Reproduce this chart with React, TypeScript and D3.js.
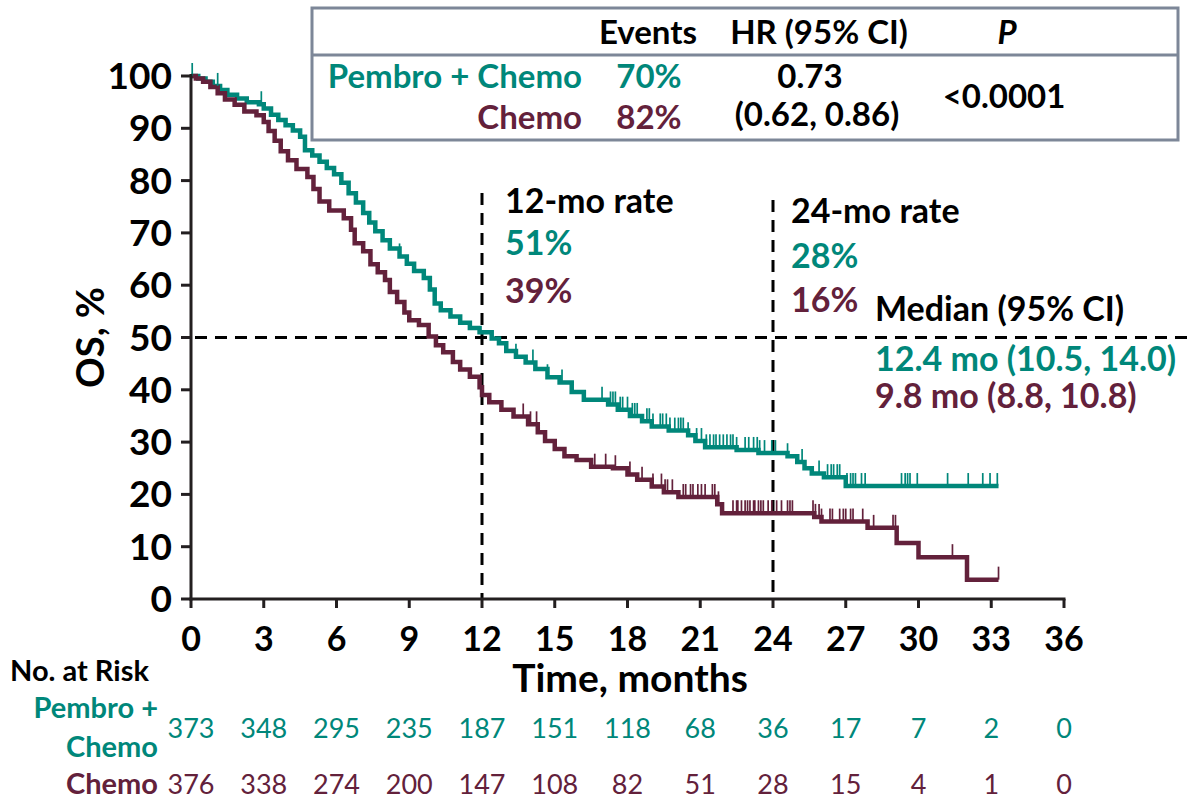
import React from "react";
import * as d3 from "d3";

// ---- Data ----
const xTicks = [0, 3, 6, 9, 12, 15, 18, 21, 24, 27, 30, 33, 36];
const yTicks = [0, 10, 20, 30, 40, 50, 60, 70, 80, 90, 100];

const pembroTimes = [0, 0.3, 0.6, 0.9, 1.2, 1.5, 1.9, 2.3, 2.8, 3.0, 3.3, 3.6, 3.9, 4.2, 4.5, 4.7, 5.0, 5.3, 5.6, 5.9, 6.2, 6.5, 6.8, 7.1, 7.35, 7.6, 7.9, 8.2, 8.6, 8.9, 9.2, 9.6, 9.85, 10.05, 10.3, 10.7, 11.1, 11.5, 11.9, 12.4, 12.7, 13.0, 13.4, 13.8, 14.2, 14.7, 15.2, 15.7, 16.2, 17.2, 17.6, 18.1, 18.6, 19.0, 19.7, 20.5, 20.8, 21.2, 22.5, 23.4, 24.6, 25.0, 25.3, 25.6, 26.1, 27.0];
const pembroSurv = [100, 99.5, 98.9, 98.1, 97.3, 96.4, 95.7, 95.0, 94.6, 93.8, 92.6, 91.6, 90.6, 89.6, 88.4, 85.8, 84.8, 83.6, 82.4, 81.2, 79.6, 77.6, 75.8, 73.8, 72.0, 70.3, 68.6, 67.0, 65.5, 64.1, 62.7, 61.4, 59.2, 56.5, 55.2, 54.0, 52.8, 51.8, 51.0, 49.8, 48.9, 47.4, 46.3, 45.2, 44.0, 42.4, 41.4, 39.6, 38.1, 37.2, 36.2, 35.0, 34.0, 33.0, 32.2, 31.3, 30.2, 29.0, 28.5, 27.9, 27.3, 26.2, 25.0, 24.0, 23.3, 21.6];
const pembroEnd = 33.3;
const pembroCensor = [0.05, 1.1, 2.9, 8.6, 13.4, 14.1, 14.7, 15.3, 16.95, 17.3, 17.4, 17.5, 17.7, 17.8, 18.0, 18.2, 18.3, 18.4, 18.8, 18.9, 19.05, 19.35, 19.45, 19.6, 19.75, 19.95, 20.1, 20.2, 20.3, 20.5, 20.85, 21.05, 21.25, 21.4, 21.55, 21.65, 21.8, 21.95, 22.1, 22.25, 22.35, 22.5, 22.85, 23.0, 23.2, 23.35, 23.45, 23.65, 23.95, 24.1, 24.6, 25.2, 25.9, 26.25, 26.4, 26.5, 26.65, 26.75, 27.05, 27.2, 27.3, 27.4, 27.65, 27.8, 29.3, 29.45, 29.55, 29.65, 29.95, 31.2, 32.05, 32.65, 32.95, 33.25];

const chemoTimes = [0, 0.2, 0.5, 0.8, 1.1, 1.4, 1.8, 2.2, 2.7, 3.0, 3.2, 3.45, 3.7, 4.0, 4.35, 4.8, 5.05, 5.3, 5.7, 6.3, 6.6, 6.75, 7.1, 7.4, 7.7, 8.0, 8.2, 8.5, 8.8, 9.0, 9.4, 9.8, 10.1, 10.4, 10.8, 11.1, 11.5, 11.9, 12.0, 12.3, 12.8, 13.3, 13.9, 14.3, 14.6, 15.0, 15.4, 15.9, 16.5, 17.4, 18.0, 18.4, 19.0, 19.5, 20.1, 21.7, 21.9, 25.7, 26.0, 27.9, 29.1, 30.0, 32.0];
const chemoSurv = [100, 99.5, 98.9, 97.9, 96.7, 95.5, 94.5, 93.2, 92.5, 91.2, 89.5, 87.6, 85.6, 83.9, 82.2, 80.7, 78.4, 76.0, 74.3, 72.8, 70.6, 68.0, 66.5, 64.0, 62.5, 61.0, 58.7, 56.8, 54.8, 53.3, 52.4, 50.2, 48.5, 47.2, 45.3, 43.9, 42.5, 40.5, 39.0, 37.6, 36.2, 34.9, 33.4, 31.9, 30.2, 28.7, 27.3, 26.6, 25.3, 25.0, 23.8, 22.8, 21.5, 20.4, 19.5, 18.1, 16.4, 15.7, 14.8, 13.6, 10.7, 8.0, 3.7];
const chemoEnd = 33.3;
const chemoCensor = [13.7, 14.0, 14.25, 16.65, 17.1, 17.5, 18.1, 18.6, 19.05, 19.4, 19.55, 19.65, 19.85, 20.3, 20.4, 20.6, 20.7, 20.9, 21.05, 21.2, 21.5, 21.6, 21.75, 22.35, 22.5, 22.55, 22.7, 22.85, 22.95, 23.05, 23.2, 23.25, 23.4, 23.5, 23.6, 23.8, 23.95, 24.15, 24.35, 24.6, 24.7, 24.8, 25.65, 25.75, 25.9, 26.0, 26.35, 26.45, 26.75, 26.9, 27.0, 27.2, 27.3, 27.7, 28.15, 28.95, 29.05, 31.4, 33.3];

const riskPembro = [373, 348, 295, 235, 187, 151, 118, 68, 36, 17, 7, 2, 0];
const riskChemo = [376, 338, 274, 200, 147, 108, 82, 51, 28, 15, 4, 1, 0];

const TEAL = "#00877a";
const MAROON = "#63213b";
const AXIS = "#231f20";
const FONT = "Lato, 'Open Sans', sans-serif";

const x = d3.scaleLinear().domain([0, 36]).range([191, 1064]);
const y = d3.scaleLinear().domain([0, 100]).range([599, 76]);

function kmPath(times: number[], surv: number[], end: number) {
  const pts: [number, number][] = times.map((t, i) => [t, surv[i]]);
  pts.push([end, surv[surv.length - 1]]);
  return d3
    .line<[number, number]>()
    .x((d) => x(d[0]))
    .y((d) => y(d[1]))
    .curve(d3.curveStepAfter)(pts) as string;
}

function survAt(times: number[], surv: number[], t: number) {
  const i = d3.bisectRight(times, t) - 1;
  return surv[Math.max(0, i)];
}

export default function App() {
  return (
    <svg
      width={1191}
      height={801}
      style={{ position: "absolute", left: 0, top: 0, background: "#fff" }}
      fontFamily={FONT}
    >
      {/* reference lines */}
      <g stroke="#000" strokeWidth={3} strokeDasharray="12 8" fill="none">
        <line x1={x(0) + 4} x2={1191} y1={y(50)} y2={y(50)} />
        <line x1={x(12)} x2={x(12)} y1={193} y2={y(0)} />
        <line x1={x(24)} x2={x(24)} y1={200} y2={y(0)} />
      </g>

      {/* curves */}
      <path d={kmPath(pembroTimes, pembroSurv, pembroEnd)} fill="none" stroke={TEAL} strokeWidth={4.5} />
      <path d={kmPath(chemoTimes, chemoSurv, chemoEnd)} fill="none" stroke={MAROON} strokeWidth={4.5} />
      <g stroke={TEAL} strokeWidth={1.7}>
        {pembroCensor.map((t, i) => {
          const s = survAt(pembroTimes, pembroSurv, t);
          return <line key={i} x1={x(t)} x2={x(t)} y1={y(s)} y2={y(s) - 13} />;
        })}
      </g>
      <g stroke={MAROON} strokeWidth={1.7}>
        {chemoCensor.map((t, i) => {
          const s = survAt(chemoTimes, chemoSurv, t);
          return <line key={i} x1={x(t)} x2={x(t)} y1={y(s)} y2={y(s) - 13} />;
        })}
      </g>

      {/* axes */}
      <g stroke={AXIS} strokeWidth={3}>
        <line x1={x(0)} x2={x(0)} y1={y(100) - 2} y2={y(0) + 1.5} />
        <line x1={x(0) - 1.5} x2={x(36) + 1.5} y1={y(0)} y2={y(0)} />
        {yTicks.map((v) => (
          <line key={"yt" + v} x1={x(0) - 10} x2={x(0)} y1={y(v)} y2={y(v)} />
        ))}
        {xTicks.map((v) => (
          <line key={"xt" + v} x1={x(v)} x2={x(v)} y1={y(0)} y2={y(0) + 9} />
        ))}
      </g>
      <g fontWeight="bold" fill="#000">
        {yTicks.map((v) => (
          <text key={"yl" + v} x={172} y={y(v) + 13} textAnchor="end" fontSize={37}>
            {v}
          </text>
        ))}
        {xTicks.map((v) => (
          <text key={"xl" + v} x={x(v)} y={651} textAnchor="middle" fontSize={34}>
            {v}
          </text>
        ))}
      </g>
      <text x={630} y={692} textAnchor="middle" fontWeight="bold" fontSize={39}>
        Time, months
      </text>
      <text
        transform={`translate(104,${y(50)}) rotate(-90)`}
        textAnchor="middle"
        fontWeight="bold"
        fontSize={38}
      >
        OS, %
      </text>

      {/* annotations */}
      <g fontWeight="bold" fontSize={34}>
        <text x={505} y={213} fill="#000">12-mo rate</text>
        <text x={505} y={255} fill={TEAL}>51%</text>
        <text x={505} y={303} fill={MAROON}>39%</text>
        <text x={791} y={223} fill="#000">24-mo rate</text>
        <text x={791} y={268} fill={TEAL}>28%</text>
        <text x={791} y={312} fill={MAROON}>16%</text>
        <text x={875} y={321} fill="#000">Median (95% CI)</text>
        <text x={875} y={371} fill={TEAL}>12.4 mo (10.5, 14.0)</text>
        <text x={875} y={408} fill={MAROON}>9.8 mo (8.8, 10.8)</text>
      </g>

      {/* legend table */}
      <rect x={312} y={8} width={866} height={132} fill="#fff" stroke="#7d8798" strokeWidth={3} />
      <line x1={312} x2={1178} y1={55} y2={55} stroke="#7d8798" strokeWidth={3} />
      <g fontWeight="bold" fontSize={33}>
        <text x={648} y={44} textAnchor="middle">Events</text>
        <text x={819} y={44} textAnchor="middle">HR (95% CI)</text>
        <text x={1007} y={44} textAnchor="middle" fontStyle="italic">P</text>
        <text x={582} y={88} textAnchor="end" fill={TEAL}>Pembro + Chemo</text>
        <text x={649} y={88} textAnchor="middle" fill={TEAL}>70%</text>
        <text x={582} y={129} textAnchor="end" fill={MAROON}>Chemo</text>
        <text x={649} y={129} textAnchor="middle" fill={MAROON}>82%</text>
        <text x={810} y={88} textAnchor="middle">0.73</text>
        <text x={817} y={126} textAnchor="middle">(0.62, 0.86)</text>
        <text x={1004} y={108} textAnchor="middle">&lt;0.0001</text>
      </g>

      {/* number at risk */}
      <text x={10} y={681} fontWeight="bold" fontSize={29}>No. at Risk</text>
      <g fontWeight="bold" fontSize={29} textAnchor="end">
        <text x={158} y={718} fill={TEAL}>Pembro +</text>
        <text x={158} y={757} fill={TEAL}>Chemo</text>
        <text x={158} y={794} fill={MAROON}>Chemo</text>
      </g>
      <g fontSize={27} textAnchor="middle">
        {riskPembro.map((v, i) => (
          <text key={"rp" + i} x={x(xTicks[i])} y={738} fill={TEAL}>{v}</text>
        ))}
        {riskChemo.map((v, i) => (
          <text key={"rc" + i} x={x(xTicks[i])} y={794} fill={MAROON}>{v}</text>
        ))}
      </g>
    </svg>
  );
}
